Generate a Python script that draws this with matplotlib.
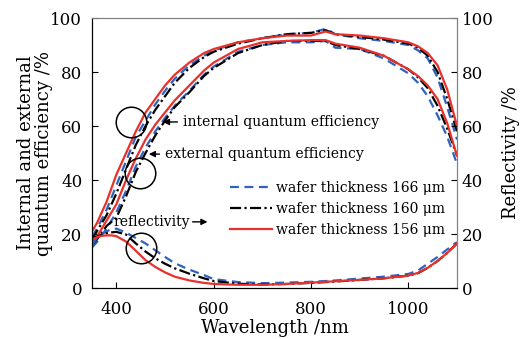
import matplotlib
matplotlib.use("Agg")
import matplotlib.pyplot as plt

plt.rcParams['font.family'] = ['DejaVu Serif']
plt.rcParams['mathtext.fontset'] = 'dejavuserif'

# Wavelength grid (nm)
wl = [350, 360, 370, 380, 390, 400, 420, 440, 460, 480, 500, 520, 550, 580, 600,
      650, 700, 750, 800, 830, 850, 900, 950, 1000, 1020, 1040, 1060, 1080, 1100]

# Internal quantum efficiency (%)
iqe_166 = [19, 22, 25.5, 29, 33.5, 38, 47, 56, 62, 68, 73, 77.5, 82.5, 86, 88,
           91, 92.5, 94, 94.5, 96, 94, 92.5, 91.5, 90, 88, 85, 78, 67, 55]
iqe_160 = [18, 21, 24, 27, 31, 35, 44, 53, 60, 66, 71, 76, 81.5, 85.5, 87.5,
           90.5, 92.5, 94, 94.5, 95.5, 94, 93, 92, 90.5, 89, 86, 80, 70, 58]
iqe_156 = [21, 24, 28, 32, 37, 42, 50, 58, 65, 70, 75, 79, 83.5, 87, 88.5,
           91, 92.5, 93.5, 93.5, 95, 94, 93.5, 92.5, 91, 89.5, 87, 82.5, 73.5, 60]

# External quantum efficiency (%)
eqe_166 = [15, 17, 19.5, 22, 25, 28, 36, 45, 52, 58, 63, 67.5, 73, 79, 82,
           87.5, 90, 91, 91, 91.5, 89, 88.5, 85, 79.5, 76, 71, 64, 56, 46]
eqe_160 = [16, 18, 20.5, 23, 24.5, 26, 34, 43, 50, 56.5, 62, 67, 72.5, 78.5, 81.5,
           87, 90, 91.5, 91.5, 91.5, 90, 88.5, 86, 81, 78, 74, 67.5, 59, 49]
eqe_156 = [17, 19, 22, 25, 28, 31, 40, 48, 55, 60.5, 65, 69.5, 75, 80.5, 83.5,
           88.5, 91, 91.5, 91.8, 91.8, 90.5, 89, 86, 81, 78.5, 75, 70, 61, 49]

# Reflectivity (%)
ref_166 = [16, 18.5, 20, 21, 21.8, 22, 20.5, 18.5, 16.5, 14, 11.5, 9.2, 6.8, 4.8, 3.3,
           2.2, 1.8, 2, 2.3, 2.6, 2.8, 3.5, 4.2, 5.2, 6.5, 9, 11.5, 14.3, 17]
ref_160 = [18.5, 19, 19.8, 20.3, 20.6, 20.8, 19.8, 16.5, 13.5, 11, 9, 7.3, 5.3, 3.6, 2.6,
           1.6, 1.3, 1.5, 1.9, 2.2, 2.4, 3, 3.6, 4.6, 5.5, 7.5, 10, 13, 16.5]
ref_156 = [18, 18.8, 19.3, 19.5, 19.5, 19.2, 17.2, 13.8, 10.3, 7.8, 5.8, 4.2, 2.8, 1.9, 1.5,
           1.2, 1.2, 1.5, 2, 2.3, 2.5, 3, 3.6, 4.6, 5.6, 7.5, 10, 13, 16.5]

labels = ['wafer thickness 166 μm', 'wafer thickness 160 μm', 'wafer thickness 156 μm']
blue = '#2f63bd'
red = '#e8302c'

fig = plt.figure(figsize=(5.31, 3.39), dpi=100)
ax = fig.add_axes([0.1733, 0.1504, 0.6873, 0.7965])
ax2 = ax.twinx()

sty = [dict(color=blue, lw=1.6, dashes=(4, 2.5)),
       dict(color='black', lw=1.6, dashes=(5, 1.5, 1, 1.5)),
       dict(color=red, lw=1.6)]

handles = []
for i, (iq, eq, rf) in enumerate(zip([iqe_166, iqe_160, iqe_156],
                                     [eqe_166, eqe_160, eqe_156],
                                     [ref_166, ref_160, ref_156])):
    h, = ax.plot(wl, iq, **sty[i])
    ax.plot(wl, eq, **sty[i])
    ax2.plot(wl, rf, **sty[i])
    handles.append(h)

for a in (ax, ax2):
    a.set_xlim(350, 1100)
    a.set_ylim(0, 100)
    a.set_yticks([0, 20, 40, 60, 80, 100])
    a.tick_params(direction='in', labelsize=12, length=4, width=0.8)
ax.set_xticks([400, 600, 800, 1000])
ax.tick_params(axis='x', pad=9)
ax.tick_params(axis='y', pad=7)

for a in (ax, ax2):
    a.spines['top'].set_color('#808080')
    a.spines['right'].set_color('#808080')
    a.spines['left'].set_color('black')
    a.spines['bottom'].set_color('black')

ax.set_xlabel('Wavelength /nm', fontsize=13, labelpad=1)
ax.set_ylabel('Internal and external\nquantum efficiency /%', fontsize=13,
              labelpad=-2, linespacing=1.0)
ax2.set_ylabel('Reflectivity /%', fontsize=13, labelpad=6)

# circles
ax.plot([430, 449], [61.5, 42.5], 'o', ms=22, mfc='none', mec='black', mew=1.1)
ax2.plot([450], [14.7], 'o', ms=22, mfc='none', mec='black', mew=1.1)

arrow = dict(arrowstyle='-|>', color='black', lw=1.0, mutation_scale=9)
ax.annotate('internal quantum efficiency', xy=(490, 61.5), xytext=(537, 61.5),
            fontsize=10, va='center', ha='left', arrowprops=arrow)
ax.annotate('external quantum efficiency', xy=(461, 49.6), xytext=(500, 49.6),
            fontsize=10, va='center', ha='left', arrowprops=arrow)
ax.text(393, 24.5, 'reflectivity', fontsize=10, va='center', ha='left')
ax.annotate('', xy=(593, 24.5), xytext=(551, 24.5), arrowprops=arrow)

ax.legend(handles, labels, loc='upper left', bbox_to_anchor=(0.378, 0.397),
          frameon=False, fontsize=10, handlelength=3.0, handletextpad=0.3,
          labelspacing=0.5, borderaxespad=0, borderpad=0)

fig.savefig('out.png', dpi=100)
